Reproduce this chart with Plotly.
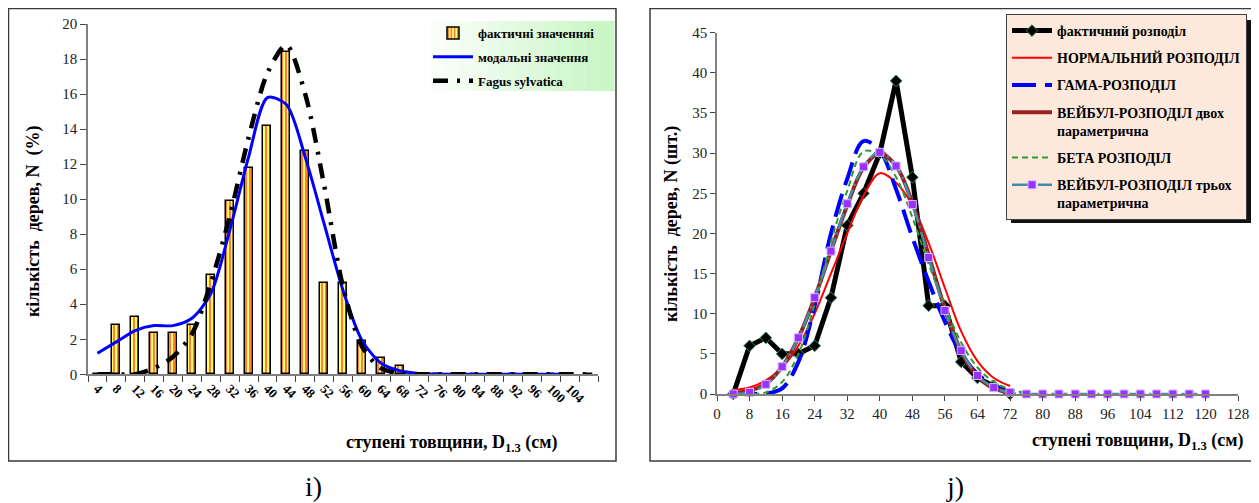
import plotly.graph_objects as go

# ---------------- data ----------------
# left panel (i): diameter classes and percentages
left_classes = [4, 8, 12, 16, 20, 24, 28, 32, 36, 40, 44, 48, 52, 56, 60, 64, 68,
                72, 76, 80, 84, 88, 92, 96, 100, 104, 108]
left_ticks = ["4", "8", "12", "16", "20", "24", "28", "32", "36", "40", "44", "48", "52",
              "56", "60", "64", "68", "72", "76", "80", "84", "88", "92", "96", "100", "104"]
actual_pct = [0, 2.83, 3.30, 2.36, 2.36, 2.83, 5.66, 9.91, 11.79, 14.15, 18.40, 12.74,
              5.19, 5.19, 1.89, 0.94, 0.47, 0, 0, 0, 0, 0, 0, 0, 0, 0, 0]
modal_pct = [1.2, 1.85, 2.5, 2.78, 2.78, 3.2, 4.6, 8.2, 12.4, 15.8, 15.4, 12.4, 8.6,
             4.8, 1.95, 0.65, 0.2, 0.05, 0.01, 0, 0, 0, 0, 0, 0, 0]
fagus_pct = [0, 0, 0, 0.35, 1.0, 2.3, 5.2, 9.0, 13.5, 17.2, 18.8, 16.0, 10.8, 5.0, 1.6,
             0.35, 0.05, 0, 0, 0, 0, 0, 0, 0, 0, 0, 0]

# right panel (j): counts of trees
right_classes = [4, 8, 12, 16, 20, 24, 28, 32, 36, 40, 44, 48, 52, 56, 60, 64, 68, 72]
actual_cnt = [0, 6, 7, 5, 5, 6, 12, 21, 25, 30, 39, 27, 11, 11, 4, 2, 1, 0]
normal_cnt = [0.5, 0.8, 1.7, 3.3, 6.0, 10.0, 15.0, 20.0, 24.7, 27.5, 26.3, 23.5, 18.8,
              13.2, 7.8, 4.1, 2.0, 1.0]
gamma_cnt = [0, 0, 0.05, 0.7, 4.0, 11.0, 20.0, 26.8, 31.5, 30.3, 25.5, 19.5, 14.0, 9.0,
             5.0, 2.5, 1.0, 0.3]
weib2_cnt = [0.1, 0.4, 1.3, 3.4, 7.0, 12.0, 17.8, 23.5, 28.2, 30.0, 28.4, 23.8, 17.3,
             10.6, 5.3, 2.2, 0.7, 0.2]
beta_classes = [4, 8, 12, 16, 20, 24, 28, 32, 36, 40, 44, 48, 52, 56, 60, 64, 68, 72, 76]
beta_cnt = [0, 0, 0.2, 1.5, 5.0, 11.2, 19.0, 25.3, 30.2, 29.8, 27.0, 22.0, 16.2, 11.0,
            6.4, 3.3, 1.5, 0.6, 0.1]
weib3_classes = [4, 8, 12, 16, 20, 24, 28, 32, 36, 40, 44, 48, 52, 56, 60, 64, 68, 72,
                 76, 80, 84, 88, 92, 96, 100, 104, 108, 112, 116, 120]
weib3_cnt = [0, 0.2, 1.2, 3.4, 7.0, 12.0, 17.8, 23.7, 28.3, 30.1, 28.4, 23.6, 17.0, 10.4,
             5.4, 2.3, 0.8, 0.2, 0, 0, 0, 0, 0, 0, 0, 0, 0, 0, 0, 0]

# ---------------- styling helpers ----------------
W, H = 1259, 503
OFF = 8  # default page body margin
SERIF = "Liberation Serif"


def px(x):
    return (x - OFF) / W


def py(y):
    return 1 - (y - OFF) / H


fig = go.Figure()

# ---- left panel traces ----
fig.add_trace(go.Bar(
    x=left_classes, y=actual_pct, width=1.7, name="фактичні значенняі",
    marker=dict(color="#ffff70",
                pattern=dict(shape="|", fgcolor="#ff0000", bgcolor="#ffff70",
                             size=4, solidity=0.5),
                line=dict(color="black", width=1.5)),
    xaxis="x", yaxis="y", legend="legend", legendgroup="a"))
fig.add_trace(go.Scatter(
    x=left_classes[:26], y=modal_pct, mode="lines", name="модальні значення",
    line=dict(color="#0000ff", width=3, shape="spline", smoothing=0.8),
    xaxis="x", yaxis="y", legend="legend", legendgroup="b", cliponaxis=False))
fig.add_trace(go.Scatter(
    x=left_classes, y=fagus_pct, mode="lines", name="Fagus sylvatica",
    line=dict(color="black", width=4.5, dash="15px,9px,3px,9px", shape="spline",
              smoothing=0.8),
    xaxis="x", yaxis="y", legend="legend", legendgroup="c", cliponaxis=False))

# ---- right panel traces ----
fig.add_trace(go.Scatter(
    x=right_classes, y=actual_cnt, mode="lines+markers", name="фактичний розподіл",
    line=dict(color="black", width=5),
    marker=dict(symbol="diamond", size=9, color="black",
                line=dict(color="#2e8b57", width=1)),
    xaxis="x2", yaxis="y2", legend="legend2", legendgroup="r1", cliponaxis=False))
fig.add_trace(go.Scatter(
    x=right_classes, y=normal_cnt, mode="lines", name="НОРМАЛЬНИЙ РОЗПОДІЛ",
    line=dict(color="#ff0000", width=2, shape="spline"),
    xaxis="x2", yaxis="y2", legend="legend2", legendgroup="r2", cliponaxis=False))
fig.add_trace(go.Scatter(
    x=right_classes, y=gamma_cnt, mode="lines", name="ГАМА-РОЗПОДІЛ",
    line=dict(color="#0000ff", width=4, dash="24px,9px", shape="spline"),
    xaxis="x2", yaxis="y2", legend="legend2", legendgroup="r3", cliponaxis=False))
fig.add_trace(go.Scatter(
    x=right_classes, y=weib2_cnt, mode="lines",
    name="ВЕЙБУЛ-РОЗПОДІЛ двох<br>параметрична",
    line=dict(color="#9b2020", width=4, shape="spline"),
    xaxis="x2", yaxis="y2", legend="legend2", legendgroup="r4", cliponaxis=False))
fig.add_trace(go.Scatter(
    x=beta_classes, y=beta_cnt, mode="lines", name="БЕТА РОЗПОДІЛ",
    line=dict(color="#2f9a2f", width=2, dash="6px,4px", shape="spline"),
    xaxis="x2", yaxis="y2", legend="legend2", legendgroup="r5", cliponaxis=False))
fig.add_trace(go.Scatter(
    x=weib3_classes, y=weib3_cnt, mode="lines+markers",
    name="ВЕЙБУЛ-РОЗПОДІЛ трьох<br>параметрична",
    line=dict(color="#3f8fa8", width=2.5, dash="16px,4px,2px,4px", shape="spline"),
    marker=dict(symbol="square", size=8, color="#9a32ff",
                line=dict(color="#d9b3ff", width=1)),
    xaxis="x2", yaxis="y2", legend="legend2", legendgroup="r6", cliponaxis=False))

# ---------------- shapes ----------------
shapes = []
# panel frames
shapes.append(dict(type="rect", xref="paper", yref="paper",
                   x0=px(8.5), x1=px(616), y0=py(461), y1=py(8.5),
                   line=dict(color="#3a3a3a", width=1.5), layer="below"))
shapes.append(dict(type="rect", xref="paper", yref="paper",
                   x0=px(650), x1=px(1254), y0=py(461), y1=py(8.5),
                   line=dict(color="#3a3a3a", width=1.5), layer="below"))
# left legend gradient background (white -> light green)
n_strips = 14
gx0, gx1 = 417, 614
for i in range(n_strips):
    t = i / (n_strips - 1)
    r = int(255 - t * (255 - 200))
    g = int(255 - t * (255 - 246))
    b = int(255 - t * (255 - 196))
    shapes.append(dict(type="rect", xref="paper", yref="paper",
                       x0=px(gx0 + (gx1 - gx0) * i / n_strips),
                       x1=px(gx0 + (gx1 - gx0) * (i + 1) / n_strips + 0.5),
                       y0=py(91), y1=py(21),
                       line=dict(width=0), fillcolor=f"rgb({r},{g},{b})",
                       layer="below"))
# right legend shadow
shapes.append(dict(type="rect", xref="paper", yref="paper",
                   x0=px(1011), x1=px(1251), y0=py(223), y1=py(20),
                   line=dict(width=0), fillcolor="#111111", layer="above"))

# ---------------- annotations ----------------
ann = []
title_font = dict(family=SERIF, size=18, color="black", weight="bold")
ann.append(dict(text="ступені товщини, D<sub>1.3</sub> (см)", x=px(452), y=py(443),
                xref="paper", yref="paper", showarrow=False, font=title_font,
                xanchor="center", yanchor="middle"))
ann.append(dict(text="ступені товщини, D<sub>1.3</sub> (см)", x=px(1138), y=py(441),
                xref="paper", yref="paper", showarrow=False, font=title_font,
                xanchor="center", yanchor="middle"))
ann.append(dict(text="кількість  дерев, N  (%)", x=px(34), y=py(221),
                xref="paper", yref="paper", showarrow=False, font=title_font,
                textangle=-90, xanchor="center", yanchor="middle"))
ann.append(dict(text="кількість  дерев, N (шт.)", x=px(672), y=py(224),
                xref="paper", yref="paper", showarrow=False, font=title_font,
                textangle=-90, xanchor="center", yanchor="middle"))
ann.append(dict(text="i)", x=px(313), y=py(486), xref="paper", yref="paper",
                showarrow=False, font=dict(family=SERIF, size=28, color="black"),
                xanchor="center", yanchor="middle"))
ann.append(dict(text="j)", x=px(955), y=py(486), xref="paper", yref="paper",
                showarrow=False, font=dict(family=SERIF, size=28, color="black"),
                xanchor="center", yanchor="middle"))

axis_line = "#808080"
tick_font = dict(family=SERIF, size=15, color="#222222")

fig.update_layout(
    width=W, height=H,
    margin=dict(l=0, r=0, t=0, b=0, pad=0, autoexpand=False),
    paper_bgcolor="white", plot_bgcolor="rgba(0,0,0,0)",
    bargap=0,
    shapes=shapes, annotations=ann,
    xaxis=dict(domain=[px(88), px(598)], range=[2, 110], anchor="y",
               tickmode="array", tickvals=left_classes[:26], ticktext=left_ticks,
               tickangle=45, ticks="", showline=True, linecolor=axis_line,
               linewidth=1.5, showgrid=False, zeroline=False, automargin=False,
               tickfont=dict(family=SERIF, size=13, color="black", weight="bold"),
               minor=dict(tickvals=[c - 2 for c in left_classes] + [110],
                          ticks="outside", ticklen=6, tickcolor="#444444",
                          tickwidth=1, showgrid=False)),
    yaxis=dict(domain=[py(374.3), py(24)], range=[0, 20], dtick=2, anchor="x",
               ticks="outside", ticklen=6, tickcolor="#444444", showline=True,
               linecolor=axis_line, linewidth=1.5, showgrid=False, zeroline=False,
               tickfont=tick_font, automargin=False),
    xaxis2=dict(domain=[px(717), px(1238)], range=[0, 128], dtick=8, anchor="y2",
                ticks="outside", ticklen=5, tickcolor="#444444", showline=True,
                linecolor=axis_line, linewidth=1.5, showgrid=False, zeroline=False,
                tickfont=tick_font, automargin=False),
    yaxis2=dict(domain=[py(394), py(32.7)], range=[0, 45], dtick=5, anchor="x2",
                ticks="outside", ticklen=5, tickcolor="#444444", showline=True,
                linecolor=axis_line, linewidth=1.5, showgrid=False, zeroline=False,
                tickfont=tick_font, automargin=False),
    legend=dict(x=px(428), y=py(18), xanchor="left", yanchor="top",
                bgcolor="rgba(0,0,0,0)", borderwidth=0,
                font=dict(family=SERIF, size=13, color="black", weight="bold"),
                itemwidth=40, tracegroupgap=4, traceorder="grouped"),
    legend2=dict(x=px(1006), y=py(14), xanchor="left", yanchor="top",
                 bgcolor="#fde9dc", bordercolor="#404040", borderwidth=1,
                 font=dict(family=SERIF, size=14, color="black", weight="bold"),
                 itemwidth=40, tracegroupgap=6, traceorder="grouped", valign="top"),
)

fig.write_html("out.html")
